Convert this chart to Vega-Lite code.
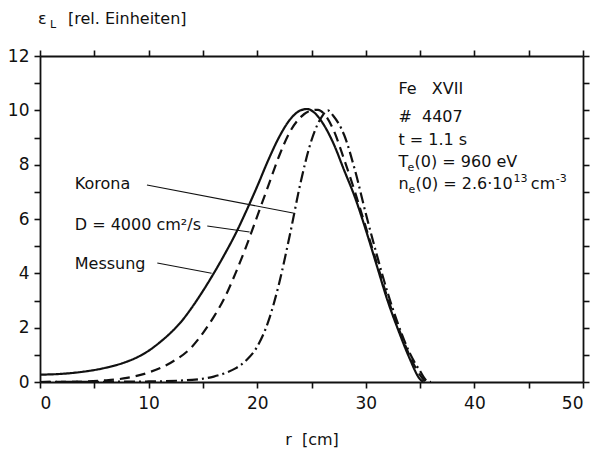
{
  "$schema": "https://vega.github.io/schema/vega-lite/v6.json",
  "width": 543,
  "height": 326,
  "autosize": "none",
  "padding": {"left": 40, "top": 56, "right": 17, "bottom": 72},
  "background": "white",
  "config": {
    "view": {"stroke": null},
    "font": "DejaVu Sans",
    "axis": {
      "grid": false,
      "domainColor": "#111",
      "domainWidth": 1.8,
      "tickColor": "#111",
      "tickWidth": 1.6,
      "tickSize": 6,
      "labelColor": "#111",
      "labelFont": "DejaVu Sans",
      "labelFontSize": 17,
      "titleColor": "#111",
      "titleFont": "DejaVu Sans",
      "titleFontWeight": "normal",
      "titleFontSize": 16
    }
  },
  "datasets": {
    "profiles": [
      {"r": 0, "v": 0.27, "curve": "Messung"},
      {"r": 2, "v": 0.3, "curve": "Messung"},
      {"r": 4, "v": 0.38, "curve": "Messung"},
      {"r": 6, "v": 0.52, "curve": "Messung"},
      {"r": 8, "v": 0.75, "curve": "Messung"},
      {"r": 9, "v": 0.92, "curve": "Messung"},
      {"r": 10, "v": 1.15, "curve": "Messung"},
      {"r": 11, "v": 1.45, "curve": "Messung"},
      {"r": 12, "v": 1.8, "curve": "Messung"},
      {"r": 13, "v": 2.22, "curve": "Messung"},
      {"r": 14, "v": 2.75, "curve": "Messung"},
      {"r": 15, "v": 3.35, "curve": "Messung"},
      {"r": 16, "v": 4.0, "curve": "Messung"},
      {"r": 17, "v": 4.7, "curve": "Messung"},
      {"r": 18, "v": 5.45, "curve": "Messung"},
      {"r": 19, "v": 6.3, "curve": "Messung"},
      {"r": 20, "v": 7.2, "curve": "Messung"},
      {"r": 21, "v": 8.15, "curve": "Messung"},
      {"r": 22, "v": 9.0, "curve": "Messung"},
      {"r": 23, "v": 9.65, "curve": "Messung"},
      {"r": 24, "v": 10.0, "curve": "Messung"},
      {"r": 24.6, "v": 10.05, "curve": "Messung"},
      {"r": 25.3, "v": 9.9, "curve": "Messung"},
      {"r": 26, "v": 9.55, "curve": "Messung"},
      {"r": 27, "v": 8.8, "curve": "Messung"},
      {"r": 28, "v": 7.8, "curve": "Messung"},
      {"r": 29, "v": 6.8, "curve": "Messung"},
      {"r": 30, "v": 5.6, "curve": "Messung"},
      {"r": 31, "v": 4.3, "curve": "Messung"},
      {"r": 32, "v": 3.0, "curve": "Messung"},
      {"r": 33, "v": 1.9, "curve": "Messung"},
      {"r": 34, "v": 0.9, "curve": "Messung"},
      {"r": 35, "v": 0.1, "curve": "Messung"},
      {"r": 35.3, "v": 0, "curve": "Messung"},

      {"r": 0, "v": 0.0, "curve": "Diffusion"},
      {"r": 4, "v": 0.02, "curve": "Diffusion"},
      {"r": 6, "v": 0.06, "curve": "Diffusion"},
      {"r": 8, "v": 0.15, "curve": "Diffusion"},
      {"r": 10, "v": 0.35, "curve": "Diffusion"},
      {"r": 12, "v": 0.7, "curve": "Diffusion"},
      {"r": 14, "v": 1.3, "curve": "Diffusion"},
      {"r": 15, "v": 1.8, "curve": "Diffusion"},
      {"r": 16, "v": 2.4, "curve": "Diffusion"},
      {"r": 17, "v": 3.1, "curve": "Diffusion"},
      {"r": 18, "v": 4.0, "curve": "Diffusion"},
      {"r": 19, "v": 5.0, "curve": "Diffusion"},
      {"r": 20, "v": 6.1, "curve": "Diffusion"},
      {"r": 21, "v": 7.2, "curve": "Diffusion"},
      {"r": 22, "v": 8.3, "curve": "Diffusion"},
      {"r": 23, "v": 9.2, "curve": "Diffusion"},
      {"r": 24, "v": 9.75, "curve": "Diffusion"},
      {"r": 25, "v": 10.0, "curve": "Diffusion"},
      {"r": 25.6, "v": 10.02, "curve": "Diffusion"},
      {"r": 26.3, "v": 9.8, "curve": "Diffusion"},
      {"r": 27, "v": 9.3, "curve": "Diffusion"},
      {"r": 28, "v": 8.2, "curve": "Diffusion"},
      {"r": 29, "v": 7.0, "curve": "Diffusion"},
      {"r": 30, "v": 5.7, "curve": "Diffusion"},
      {"r": 31, "v": 4.4, "curve": "Diffusion"},
      {"r": 32, "v": 3.1, "curve": "Diffusion"},
      {"r": 33, "v": 2.0, "curve": "Diffusion"},
      {"r": 34, "v": 1.0, "curve": "Diffusion"},
      {"r": 35, "v": 0.25, "curve": "Diffusion"},
      {"r": 35.5, "v": 0, "curve": "Diffusion"},

      {"r": 0, "v": 0.0, "curve": "Korona"},
      {"r": 10, "v": 0.02, "curve": "Korona"},
      {"r": 14, "v": 0.08, "curve": "Korona"},
      {"r": 16, "v": 0.2, "curve": "Korona"},
      {"r": 17, "v": 0.32, "curve": "Korona"},
      {"r": 18, "v": 0.5, "curve": "Korona"},
      {"r": 19, "v": 0.8, "curve": "Korona"},
      {"r": 20, "v": 1.3, "curve": "Korona"},
      {"r": 21, "v": 2.2, "curve": "Korona"},
      {"r": 22, "v": 3.6, "curve": "Korona"},
      {"r": 23, "v": 5.4, "curve": "Korona"},
      {"r": 24, "v": 7.35, "curve": "Korona"},
      {"r": 25, "v": 8.9, "curve": "Korona"},
      {"r": 26, "v": 9.8, "curve": "Korona"},
      {"r": 26.5, "v": 10.0, "curve": "Korona"},
      {"r": 27, "v": 9.8, "curve": "Korona"},
      {"r": 28, "v": 9.1, "curve": "Korona"},
      {"r": 29, "v": 7.8, "curve": "Korona"},
      {"r": 30, "v": 6.2, "curve": "Korona"},
      {"r": 31, "v": 4.7, "curve": "Korona"},
      {"r": 32, "v": 3.3, "curve": "Korona"},
      {"r": 33, "v": 2.1, "curve": "Korona"},
      {"r": 34, "v": 1.1, "curve": "Korona"},
      {"r": 35, "v": 0.4, "curve": "Korona"},
      {"r": 35.6, "v": 0.05, "curve": "Korona"},
      {"r": 36, "v": 0, "curve": "Korona"}
    ]
  },
  "layer": [
    {
      "data": {"name": "profiles"},
      "mark": {"type": "line", "color": "#111", "strokeWidth": 2.2, "interpolate": "monotone", "clip": true},
      "encoding": {
        "x": {
          "field": "r", "type": "quantitative",
          "scale": {"domain": [0, 50], "nice": false},
          "axis": {
            "orient": "bottom",
            "values": [0, 5, 10, 15, 20, 25, 30, 35, 40, 45, 50],
            "labelExpr": "datum.value % 10 === 0 ? datum.label : ''",
            "labelPadding": 7,
            "title": "r\u00a0\u00a0[cm]",
            "titlePadding": 20
          }
        },
        "y": {
          "field": "v", "type": "quantitative",
          "scale": {"domain": [0, 12], "nice": false},
          "axis": {
            "orient": "left",
            "values": [0, 1, 2, 3, 4, 5, 6, 7, 8, 9, 10, 11, 12],
            "labelExpr": "datum.value % 2 === 0 ? datum.label : ''",
            "labelPadding": 5,
            "title": null
          }
        },
        "detail": {"field": "curve"},
        "strokeDash": {
          "field": "curve", "type": "nominal",
          "scale": {"domain": ["Messung", "Diffusion", "Korona"], "range": [[1, 0], [10, 6], [11, 4, 2, 4]]},
          "legend": null
        }
      }
    },
    {
      "data": {"values": [
        {"x": 9.85, "y": 7.25, "x2": 23.3, "y2": 6.22},
        {"x": 15.4, "y": 5.74, "x2": 19.3, "y2": 5.52},
        {"x": 10.8, "y": 4.38, "x2": 15.8, "y2": 4.0}
      ]},
      "mark": {"type": "rule", "color": "#111", "strokeWidth": 1.1},
      "encoding": {
        "x": {
          "field": "x", "type": "quantitative",
          "scale": {"domain": [0, 50], "nice": false},
          "axis": {"orient": "top", "values": [0, 5, 10, 15, 20, 25, 30, 35, 40, 45, 50], "labels": false, "title": null}
        },
        "y": {
          "field": "y", "type": "quantitative",
          "scale": {"domain": [0, 12], "nice": false},
          "axis": {"orient": "right", "values": [0, 1, 2, 3, 4, 5, 6, 7, 8, 9, 10, 11, 12], "labels": false, "title": null}
        },
        "x2": {"field": "x2"},
        "y2": {"field": "y2"}
      }
    },
    {
      "data": {"values": [
        {"x": 3.2, "y": 7.3, "text": "Korona"},
        {"x": 3.2, "y": 5.78, "text": "D = 4000 cm²/s"},
        {"x": 3.2, "y": 4.34, "text": "Messung"}
      ]},
      "mark": {"type": "text", "align": "left", "baseline": "middle", "fontSize": 16, "color": "#111"},
      "encoding": {
        "x": {"field": "x", "type": "quantitative", "scale": {"domain": [0, 50], "nice": false}, "axis": null},
        "y": {"field": "y", "type": "quantitative", "scale": {"domain": [0, 12], "nice": false}, "axis": null},
        "text": {"field": "text"}
      }
    },
    {
      "data": {"values": [
        {"x": 33.0, "y": 10.6, "text": "Fe\u00a0\u00a0\u00a0XVII"},
        {"x": 33.0, "y": 9.57, "text": "#\u00a0\u00a04407"},
        {"x": 33.0, "y": 8.72, "text": "t = 1.1 s"},
        {"x": 33.0, "y": 7.91, "text": "T"},
        {"x": 34.49, "y": 7.91, "text": "(0) = 960 eV"},
        {"x": 33.0, "y": 7.1, "text": "n"},
        {"x": 34.58, "y": 7.1, "text": "(0) = 2.6·10"},
        {"x": 45.2, "y": 7.1, "text": "cm"},
        {"x": 2.58, "y": 13.18, "text": "[rel. Einheiten]"},
        {"x": -0.18, "y": 13.18, "text": "ε"}
      ]},
      "mark": {"type": "text", "align": "left", "baseline": "alphabetic", "fontSize": 16, "color": "#111"},
      "encoding": {
        "x": {"field": "x", "type": "quantitative", "scale": {"domain": [0, 50], "nice": false}, "axis": null},
        "y": {"field": "y", "type": "quantitative", "scale": {"domain": [0, 12], "nice": false}, "axis": null},
        "text": {"field": "text"}
      }
    },
    {
      "data": {"values": [
        {"x": 33.84, "y": 7.76, "text": "e"},
        {"x": 33.93, "y": 6.95, "text": "e"},
        {"x": 43.6, "y": 7.36, "text": "13"},
        {"x": 47.5, "y": 7.36, "text": "-3"},
        {"x": 0.92, "y": 13.03, "text": "L"}
      ]},
      "mark": {"type": "text", "align": "left", "baseline": "alphabetic", "fontSize": 11, "color": "#111"},
      "encoding": {
        "x": {"field": "x", "type": "quantitative", "scale": {"domain": [0, 50], "nice": false}, "axis": null},
        "y": {"field": "y", "type": "quantitative", "scale": {"domain": [0, 12], "nice": false}, "axis": null},
        "text": {"field": "text"}
      }
    }
  ],
  "resolve": {"axis": {"x": "independent", "y": "independent"}}
}
